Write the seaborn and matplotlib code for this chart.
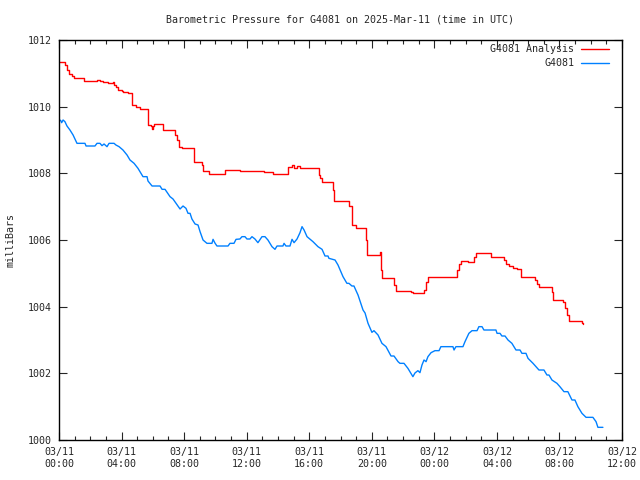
import numpy as np
import pandas as pd
import matplotlib
matplotlib.use("Agg")
import matplotlib.pyplot as plt
import matplotlib.dates as mdates
import seaborn as sns

# ---- data (hours after 2025-03-11 00:00 UTC, pressure in mbar) ----
analysis_hours = [0.00, 0.38, 0.51, 0.64, 0.83, 0.96, 1.60, 2.43, 2.62, 2.81, 3.13, 3.45, 3.52, 3.64,
                  3.77, 4.03, 4.09, 4.41, 4.65, 4.92, 5.18, 5.69, 5.87, 5.95, 6.01, 6.07, 6.65, 7.42,
                  7.54, 7.67, 7.86, 8.63, 9.12, 9.21, 9.59, 10.61, 11.57, 13.11, 13.68, 14.64, 14.90,
                  15.03, 15.22, 15.41, 16.62, 16.69, 16.82, 17.52, 17.58, 18.54, 18.73, 18.99, 19.63,
                  19.69, 20.52, 20.59, 20.65, 21.42, 21.55, 22.51, 22.63, 23.34, 23.47, 23.59, 25.45,
                  25.58, 25.70, 26.15, 26.53, 26.66, 27.62, 28.45, 28.58, 28.77, 29.03, 29.28, 29.54,
                  30.43, 30.56, 30.69, 31.52, 31.59, 32.23, 32.35, 32.48, 32.61, 33.44, 33.50]
analysis_mbar = [1011.33, 1011.25, 1011.10, 1010.98, 1010.93, 1010.85, 1010.77, 1010.80, 1010.76,
                 1010.74, 1010.70, 1010.73, 1010.65, 1010.59, 1010.50, 1010.47, 1010.44, 1010.40,
                 1010.05, 1010.00, 1009.93, 1009.45, 1009.42, 1009.34, 1009.42, 1009.48, 1009.30,
                 1009.15, 1009.00, 1008.80, 1008.75, 1008.34, 1008.25, 1008.07, 1007.99, 1008.10,
                 1008.07, 1008.03, 1007.99, 1008.18, 1008.24, 1008.16, 1008.22, 1008.16, 1007.95,
                 1007.86, 1007.74, 1007.50, 1007.17, 1007.02, 1006.45, 1006.35, 1006.00, 1005.54,
                 1005.64, 1005.10, 1004.85, 1004.65, 1004.47, 1004.44, 1004.40, 1004.50, 1004.74,
                 1004.90, 1005.10, 1005.28, 1005.37, 1005.33, 1005.49, 1005.60, 1005.48, 1005.40,
                 1005.28, 1005.22, 1005.16, 1005.12, 1004.88, 1004.80, 1004.68, 1004.58, 1004.44,
                 1004.19, 1004.14, 1003.96, 1003.75, 1003.57, 1003.52, 1003.47]

station_hours = [0.00, 0.13, 0.17, 0.26, 0.38, 0.51, 0.70, 0.90, 1.15, 1.66, 1.73, 2.30, 2.43, 2.62,
                 2.75, 2.88, 3.07, 3.20, 3.52, 3.64, 3.84, 4.09, 4.35, 4.54, 4.80, 5.05, 5.37, 5.63,
                 5.69, 5.95, 6.46, 6.59, 6.78, 7.10, 7.29, 7.61, 7.74, 7.93, 8.12, 8.25, 8.38, 8.50,
                 8.70, 8.89, 9.02, 9.21, 9.34, 9.46, 9.78, 9.85, 9.97, 10.10, 10.81, 10.93, 11.19,
                 11.32, 11.57, 11.70, 11.89, 12.02, 12.21, 12.34, 12.53, 12.72, 12.98, 13.17, 13.36,
                 13.62, 13.81, 13.94, 14.32, 14.39, 14.51, 14.77, 14.90, 15.03, 15.22, 15.41, 15.54,
                 15.67, 15.86, 16.24, 16.56, 16.82, 17.01, 17.20, 17.26, 17.65, 17.84, 18.16, 18.41,
                 18.54, 18.73, 18.86, 19.12, 19.44, 19.57, 19.76, 20.01, 20.14, 20.40, 20.65, 20.91,
                 21.23, 21.42, 21.68, 21.80, 22.06, 22.31, 22.63, 22.76, 22.95, 23.08, 23.21, 23.34,
                 23.47, 23.59, 23.79, 24.04, 24.30, 24.42, 25.19, 25.26, 25.38, 25.83, 25.96, 26.21,
                 26.41, 26.73, 26.85, 27.05, 27.17, 27.94, 28.01, 28.20, 28.32, 28.52, 28.71, 28.96,
                 29.22, 29.48, 29.60, 29.86, 29.99, 30.31, 30.69, 31.01, 31.20, 31.33, 31.52, 31.84,
                 32.03, 32.29, 32.54, 32.80, 32.99, 33.18, 33.44, 33.70, 34.14, 34.34, 34.46, 34.78]
station_mbar = [1009.62, 1009.57, 1009.52, 1009.60, 1009.55, 1009.42, 1009.30, 1009.15, 1008.90,
                1008.90, 1008.82, 1008.82, 1008.90, 1008.90, 1008.83, 1008.88, 1008.80, 1008.90,
                1008.90, 1008.85, 1008.80, 1008.70, 1008.55, 1008.40, 1008.30, 1008.15, 1007.90,
                1007.90, 1007.77, 1007.62, 1007.62, 1007.52, 1007.52, 1007.30, 1007.23, 1007.02,
                1006.93, 1007.02, 1006.95, 1006.80, 1006.80, 1006.63, 1006.48, 1006.45, 1006.25,
                1006.00, 1005.95, 1005.90, 1005.90, 1006.02, 1005.91, 1005.82, 1005.82, 1005.90,
                1005.90, 1006.02, 1006.03, 1006.10, 1006.10, 1006.03, 1006.03, 1006.10, 1006.03,
                1005.92, 1006.10, 1006.10, 1006.00, 1005.80, 1005.72, 1005.82, 1005.82, 1005.90,
                1005.82, 1005.82, 1006.02, 1005.92, 1006.03, 1006.22, 1006.40, 1006.30, 1006.10,
                1005.95, 1005.80, 1005.72, 1005.52, 1005.52, 1005.45, 1005.40, 1005.25, 1004.90,
                1004.70, 1004.70, 1004.62, 1004.62, 1004.35, 1003.90, 1003.81, 1003.50, 1003.23,
                1003.28, 1003.15, 1002.90, 1002.80, 1002.52, 1002.52, 1002.35, 1002.30, 1002.30,
                1002.15, 1001.90, 1002.01, 1002.08, 1002.02, 1002.25, 1002.40, 1002.35, 1002.50,
                1002.62, 1002.68, 1002.68, 1002.80, 1002.80, 1002.70, 1002.80, 1002.80, 1002.95,
                1003.20, 1003.28, 1003.28, 1003.40, 1003.40, 1003.30, 1003.30, 1003.20, 1003.20,
                1003.12, 1003.12, 1003.00, 1002.90, 1002.70, 1002.70, 1002.60, 1002.60, 1002.45,
                1002.30, 1002.10, 1002.10, 1001.95, 1001.95, 1001.80, 1001.70, 1001.60, 1001.45,
                1001.45, 1001.20, 1001.20, 1001.00, 1000.80, 1000.68, 1000.68, 1000.55, 1000.38,
                1000.38]

series_names = ["G4081 Analysis", "G4081"]
series_colors = ["#ff0000", "#0080ff"]
title_text = "Barometric Pressure for G4081 on 2025-Mar-11 (time in UTC)"
y_label = "milliBars"
start = pd.Timestamp("2025-03-11 00:00")

df_a = pd.DataFrame({"time": start + pd.to_timedelta(analysis_hours, unit="h"), "mbar": analysis_mbar})
df_s = pd.DataFrame({"time": start + pd.to_timedelta(station_hours, unit="h"), "mbar": station_mbar})

# ---- style ----
sns.set_style("ticks")
plt.rcParams["font.family"] = ["DejaVu Sans Mono"]
fs = 7.2

fig = plt.figure(figsize=(6.4, 4.8), dpi=100)
ax = fig.add_axes([59 / 640, 1 - 440 / 480, (622 - 59) / 640, 400 / 480])

sns.lineplot(data=df_a, x="time", y="mbar", ax=ax, color=series_colors[0], lw=1.0,
             drawstyle="steps-post", label=series_names[0])
sns.lineplot(data=df_s, x="time", y="mbar", ax=ax, color=series_colors[1], lw=1.0,
             label=series_names[1])

ax.set_xlim(start, start + pd.Timedelta(hours=36))
ax.set_ylim(1000, 1012)
ax.set_yticks(np.arange(1000, 1013, 2))
ax.xaxis.set_major_locator(mdates.HourLocator(byhour=range(0, 24, 4)))
ax.xaxis.set_minor_locator(mdates.HourLocator())
ax.xaxis.set_major_formatter(mdates.DateFormatter("%m/%d\n%H:%M"))

for s in ax.spines.values():
    s.set_visible(True)
    s.set_linewidth(1.0)
    s.set_color("black")
ax.tick_params(axis="both", which="major", direction="in", length=6, width=0.8,
               top=True, right=True, labelsize=fs, pad=5)
ax.tick_params(axis="x", which="minor", direction="in", length=3, width=0.8, top=True)
ax.tick_params(axis="y", which="minor", length=0)
ax.set_xlabel("")
ax.set_ylabel(y_label, fontsize=fs, labelpad=9)
ax.grid(False)

fig.text((59 + 622) / 2 / 640, 1 - 20 / 480, title_text, ha="center", va="center", fontsize=fs)

leg = ax.legend(loc="upper right", frameon=False, fontsize=fs, markerfirst=False,
                handlelength=2.8, handletextpad=0.7, labelspacing=0.4,
                bbox_to_anchor=(0.988, 1.004), borderaxespad=0.2)

fig.savefig("out.png", dpi=100)
